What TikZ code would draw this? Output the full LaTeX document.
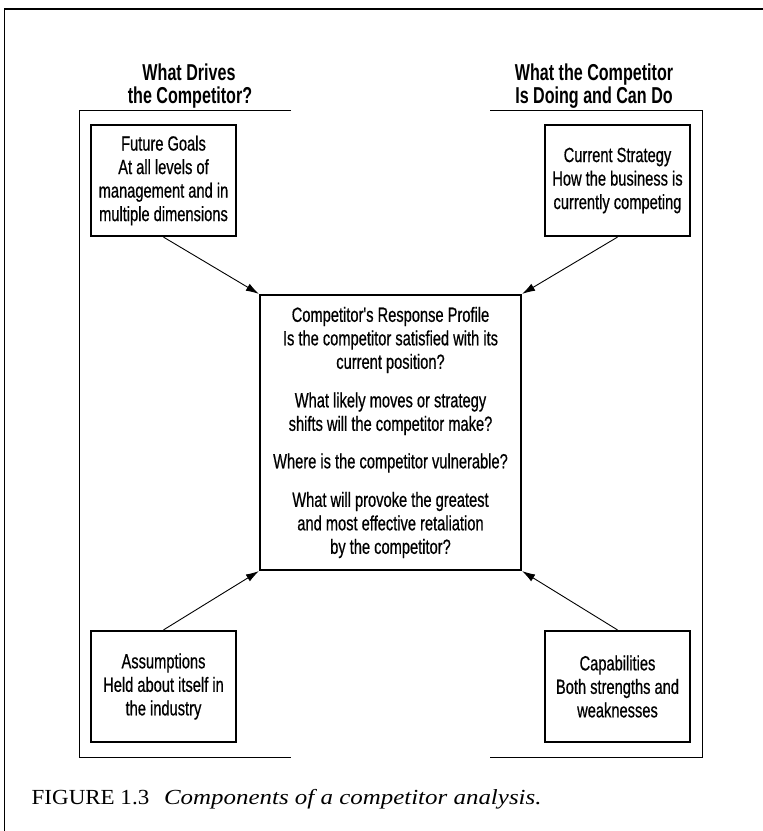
\documentclass[tikz,border=0pt]{standalone}
\usepackage{fontspec}
\setmainfont{Liberation Serif}
\newfontfamily\boxfont[FakeStretch=0.715,FakeBold=0.6]{Liberation Sans}
\newfontfamily\headfont[FakeStretch=0.70]{Liberation Sans}
\newfontfamily\capfont[FakeStretch=1.07]{Liberation Serif}
\newfontfamily\capitfont[FakeStretch=1.16]{Liberation Serif}
\usetikzlibrary{arrows.meta}
\tikzset{
  box/.style={draw=black, line width=2.2pt, align=center, inner sep=0pt,
    font=\boxfont\fontsize{20.5}{23.5}\selectfont},
  smallbox/.style={box, minimum width=145pt, minimum height=111pt},
  head/.style={inner sep=0pt, anchor=base, font=\headfont\bfseries\fontsize{23}{24}\selectfont},
  bracket/.style={draw=black, line width=1pt},
  frame/.style={draw=black, line width=1.3pt},
  conn/.style={draw=black, line width=0.9pt, -{Latex[length=13pt,width=8pt]}},
}
\begin{document}
\begin{tikzpicture}[x=1pt,y=-1pt]
\useasboundingbox (0,0) rectangle (763,831);
% outer frame
\draw[frame] (4.5,831) -- (4.5,9) -- (763,9);
% brackets
\draw[bracket] (291,110) -- (79,110) -- (79,757) -- (291,757);
\draw[bracket] (490,110) -- (702,110) -- (702,757) -- (490,757);
% headers
\node[head] (hla) at (189,80) {What Drives};
\node[head] (hlb) at (190,103) {the Competitor?};
\node[head] (hra) at (594,80) {What the Competitor};
\node[head] (hrb) at (594,103) {Is Doing and Can Do};
% boxes
\node[smallbox] (fg) at (163.5,180.5) {Future Goals\\At all levels of\\management and in\\multiple dimensions};
\node[smallbox] (cs) at (617.5,180.5) {Current Strategy\\How the business is\\currently competing};
\node[smallbox] (as) at (163.5,686.5) {Assumptions\\Held about itself in\\the industry};
\node[smallbox] (cp) at (617.5,686.5) {Capabilities\\Both strengths and\\weaknesses};
\node[box, minimum width=261pt, minimum height=275pt] (ctr) at (390.5,432.5) {Competitor's Response Profile\\
Is the competitor satisfied with its\\
current position?\\[15pt]
What likely moves or strategy\\
shifts will the competitor make?\\[14pt]
Where is the competitor vulnerable?\\[15pt]
What will provoke the greatest\\
and most effective retaliation\\
by the competitor?};
% connectors
\draw[conn] (fg.south) -- (ctr.north west);
\draw[conn] (cs.south) -- (ctr.north east);
\draw[conn] (as.north) -- (ctr.south west);
\draw[conn] (cp.north) -- (ctr.south east);
% caption
\node[anchor=base west, inner sep=0pt] (cap) at (31.5,804) {\capfont\fontsize{21.5}{24}\selectfont FIGURE 1.3\hspace{9pt} \capitfont\itshape Components of a competitor analysis.};
\end{tikzpicture}
\end{document}
